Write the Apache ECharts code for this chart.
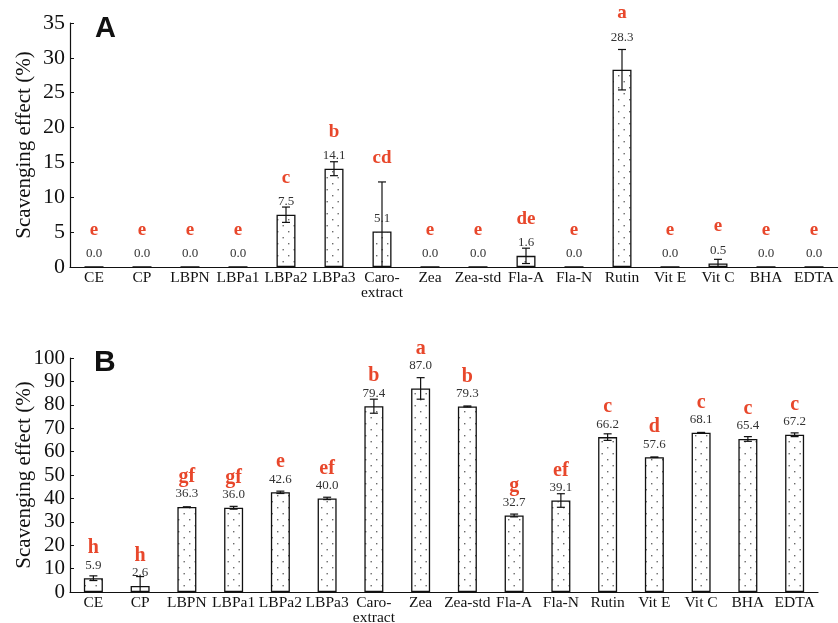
<!DOCTYPE html>
<html>
<head>
<meta charset="utf-8">
<script src="https://cdn.jsdelivr.net/npm/echarts@6/dist/echarts.min.js"></script>
<style>
  html, body { margin: 0; padding: 0; background: #fff; }
  #chart { width: 838px; height: 623px; }
</style>
</head>
<body>
<div id="chart"></div>
<script>
// categories shared by both panels
const categories = ['CE', 'CP', 'LBPN', 'LBPa1', 'LBPa2', 'LBPa3', 'Caro-\nextract', 'Zea',
  'Zea-std', 'Fla-A', 'Fla-N', 'Rutin', 'Vit E', 'Vit C', 'BHA', 'EDTA'];

// panel A
const valuesA = [0, 0, 0, 0, 7.5, 14.1, 5.1, 0, 0, 1.6, 0, 28.3, 0, 0.5, 0, 0];
const errorsA = [0, 0, 0, 0, 1.1, 1.0, 7.1, 0, 0, 1.1, 0, 2.9, 0, 0.6, 0, 0];
const lettersA = ['e', 'e', 'e', 'e', 'c', 'b', 'cd', 'e', 'e', 'de', 'e', 'a', 'e', 'e', 'e', 'e'];

// panel B
const valuesB = [5.9, 2.6, 36.3, 36.0, 42.6, 40.0, 79.4, 87.0, 79.3, 32.7, 39.1, 66.2, 57.6, 68.1, 65.4, 67.2];
const errorsB = [1.0, 4.0, 0.1, 0.6, 0.5, 0.5, 3.0, 4.6, 0.2, 0.6, 2.9, 1.4, 0.1, 0.1, 1.0, 0.8];
const lettersB = ['h', 'h', 'gf', 'gf', 'e', 'ef', 'b', 'a', 'b', 'g', 'ef', 'c', 'd', 'c', 'c', 'c'];

const serif = '"Liberation Serif", "DejaVu Serif", serif';
const red = '#e8472b';

// dotted fill like the printed figure
function dotPattern() {
  const c = document.createElement('canvas');
  c.width = 11; c.height = 12;
  const ctx = c.getContext('2d');
  ctx.fillStyle = '#fff';
  ctx.fillRect(0, 0, 11, 12);
  ctx.fillStyle = '#6a6a6a';
  ctx.fillRect(2, 3, 1.4, 1.4);
  ctx.fillRect(7.5, 9, 1.4, 1.4);
  return c;
}
const pattern = { image: dotPattern(), repeat: 'repeat' };

// error bars + value label + significance letter
function makeRender(letters, letterGap, letterSize) {
  return function (params, api) {
    const i = api.value(0), v = api.value(1), e = api.value(2);
    const pv = api.coord([i, v]);
    const ph = api.coord([i, v + e]);
    const pl = api.coord([i, Math.max(0, v - e)]);
    const x = pv[0];
    const children = [];
    if (e > 0) {
      const ls = { stroke: '#111', lineWidth: 1.2 };
      children.push({ type: 'line', shape: { x1: x, y1: ph[1], x2: x, y2: pl[1] }, style: ls });
      children.push({ type: 'line', shape: { x1: x - 4, y1: ph[1], x2: x + 4, y2: ph[1] }, style: ls });
      if (v - e > 0) {
        children.push({ type: 'line', shape: { x1: x - 4, y1: pl[1], x2: x + 4, y2: pl[1] }, style: ls });
      }
    }
    const errPx = pv[1] - ph[1];
    const labelY = (e > v || errPx <= 8) ? pv[1] - 13 : ph[1] - 12;
    children.push({
      type: 'text',
      style: { text: v.toFixed(1), x: x, y: labelY, align: 'center', verticalAlign: 'middle',
        font: '13px ' + serif, fill: '#333' }
    });
    children.push({
      type: 'text',
      style: { text: letters[i], x: x, y: Math.min(labelY, ph[1]) - letterGap, align: 'center',
        verticalAlign: 'middle', font: 'bold ' + letterSize + 'px ' + serif, fill: red }
    });
    return { type: 'group', children: children };
  };
}

function xAxis(gridIndex) {
  return {
    type: 'category', gridIndex: gridIndex, data: categories,
    axisLine: { lineStyle: { color: '#111', width: 1.2 } },
    axisTick: { inside: true, length: 4, lineStyle: { color: '#111' } },
    axisLabel: { fontFamily: serif, fontSize: 15.5, color: '#111', margin: 3, lineHeight: 15, interval: 0 }
  };
}
function yAxis(gridIndex, max, interval, size) {
  return {
    type: 'value', gridIndex: gridIndex, min: 0, max: max, interval: interval,
    name: 'Scavenging effect (%)', nameLocation: 'middle', nameGap: 35, nameMoveOverlap: false,
    nameTextStyle: { fontFamily: serif, fontSize: 21, color: '#111' },
    axisLine: { show: true, lineStyle: { color: '#111', width: 1.2 } },
    axisTick: { show: true, inside: true, length: 4, lineStyle: { color: '#111' } },
    axisLabel: { fontFamily: serif, fontSize: size, color: '#111', margin: 5 },
    splitLine: { show: false }
  };
}

const chart = echarts.init(document.getElementById('chart'));
chart.setOption({
  animation: false,
  grid: [
    { left: 70, right: 0, top: 23, bottom: 356, outerBoundsMode: 'none', containLabel: false },
    { left: 70, right: 20, top: 358, bottom: 31, outerBoundsMode: 'none', containLabel: false }
  ],
  xAxis: [xAxis(0), xAxis(1)],
  yAxis: [yAxis(0, 35, 5, 22), yAxis(1, 100, 10, 21)],
  graphic: [
    { type: 'text', left: 95, top: 14, style: { text: 'A', font: 'bold 29px Arial, "Liberation Sans", sans-serif', fill: '#111' } },
    { type: 'text', left: 94, top: 348, style: { text: 'B', font: 'bold 30px Arial, "Liberation Sans", sans-serif', fill: '#111' } }
  ],
  series: [
    { type: 'bar', xAxisIndex: 0, yAxisIndex: 0, data: valuesA, barWidth: 19,
      itemStyle: { color: pattern, borderColor: '#111', borderWidth: 1.3 } },
    { type: 'bar', xAxisIndex: 1, yAxisIndex: 1, data: valuesB, barWidth: 19,
      itemStyle: { color: pattern, borderColor: '#111', borderWidth: 1.3 } },
    { type: 'custom', xAxisIndex: 0, yAxisIndex: 0, z: 5,
      data: valuesA.map((v, i) => [i, v, errorsA[i]]),
      renderItem: makeRender(lettersA, 24, 19) },
    { type: 'custom', xAxisIndex: 1, yAxisIndex: 1, z: 5,
      data: valuesB.map((v, i) => [i, v, errorsB[i]]),
      renderItem: makeRender(lettersB, 17, 20) }
  ]
});
</script>
</body>
</html>
